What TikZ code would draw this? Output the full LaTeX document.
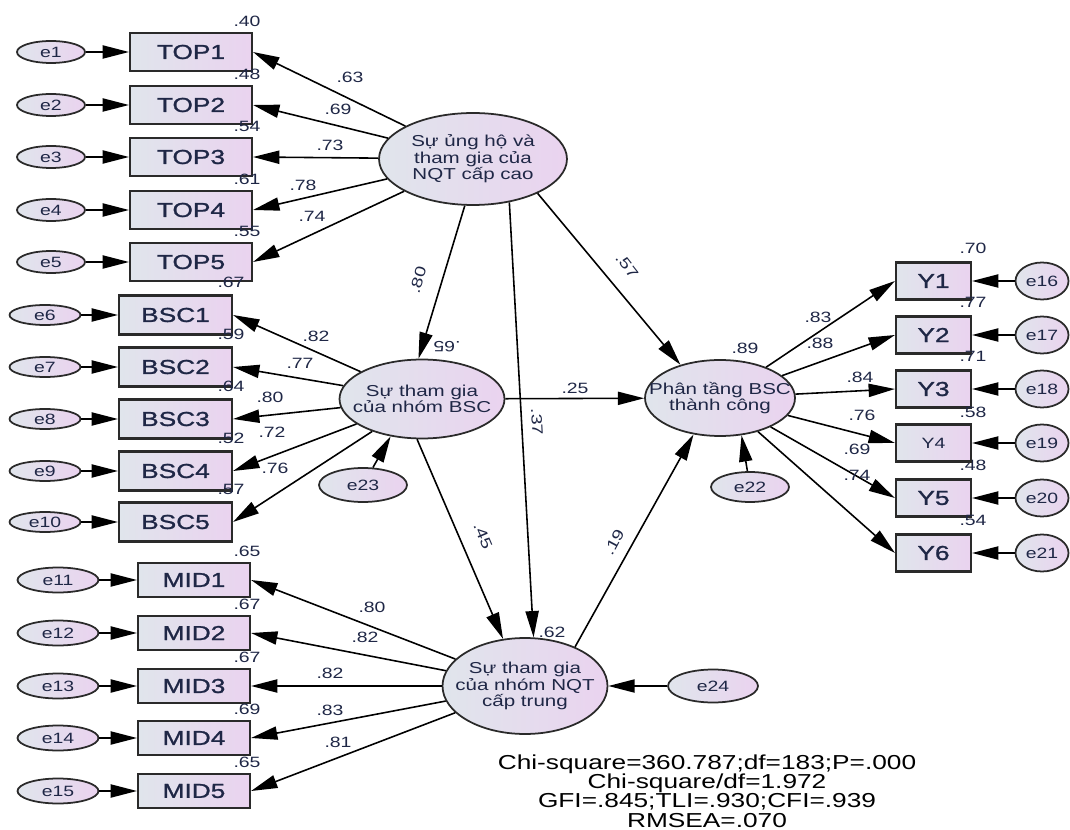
\documentclass[tikz,border=0pt]{standalone}
\usepackage{fontspec}
\newfontfamily\amos[FakeStretch=1.3]{Liberation Sans}
\newfontfamily\amosb[FakeStretch=1.3,FakeBold=1.2]{Liberation Sans}
\usetikzlibrary{arrows.meta,shapes.geometric}
\definecolor{txt}{HTML}{1F2746}
\definecolor{fillL}{HTML}{E0E5EC}
\definecolor{fillR}{HTML}{EAD3EF}
\definecolor{edge}{HTML}{2A2A2A}
\begin{document}
\begin{tikzpicture}[x=0.02cm,y=-0.02cm,
 every node/.style={font=\amos, text=txt},
 obs/.style={draw=edge, line width=1.2pt, rectangle, left color=fillL, right color=fillR, inner sep=0pt, font=\amosb\fontsize{11.5}{12}\selectfont},
 err/.style={draw=edge, line width=1pt, ellipse, left color=fillL, right color=fillR, inner sep=0pt, font=\amos\fontsize{8.5}{9}\selectfont},
 lat/.style={draw=edge, line width=1pt, ellipse, left color=fillL, right color=fillR, inner xsep=-12pt, inner ysep=0pt, align=center, font=\amos\fontsize{9}{9.3}\selectfont},
 num/.style={font=\amos\fontsize{8.5}{9}\selectfont, inner sep=0pt},
 arr/.style={draw=black, line width=0.9pt, -{Triangle[length=15pt,width=7.5pt]}},
]
\useasboundingbox (0,0) rectangle (1070,830);

% latent variables
\node[lat, minimum width=3.76cm, minimum height=1.84cm] (L1) at (473,159) {Sự ủng hộ và\\tham gia của\\NQT cấp cao};
\node[lat, minimum width=3.3cm, minimum height=1.58cm] (L2) at (422,399) {Sự tham gia\\của nhóm BSC};
\node[lat, minimum width=3.3cm, minimum height=1.92cm] (L3) at (525,686) {Sự tham gia\\của nhóm NQT\\cấp trung};
\node[lat, minimum width=3.0cm, minimum height=1.52cm] (L4) at (720,398) {Phân tầng BSC\\thành công};

% TOP block
\foreach \i/\y/\r/\p/\px/\py in {1/52/.40/.63/350/77, 2/105/.48/.69/338/109, 3/157/.54/.73/330/145, 4/210/.61/.78/303/185, 5/262/.55/.74/312/216} {
  \node[obs, minimum width=2.44cm, minimum height=0.76cm] (TOP\i) at (191,\y) {TOP\i};
  \node[err, minimum width=1.36cm, minimum height=0.44cm] (e\i) at (51,\y) {e\i};
  \draw[arr] (e\i) -- (TOP\i);
  \draw[arr] (L1) -- (TOP\i.east);
  \node[num] (rT\i) at (247,\y-31) {\r};
  \node[num] (pT\i) at (\px,\py) {\p};
}

% BSC block
\foreach \i/\e/\y/\r/\p/\px/\py in {1/6/315/.67/.82/316/336, 2/7/367/.59/.77/300/363, 3/8/419/.64/.80/270/397, 4/9/471/.52/.72/272/432, 5/10/522/.57/.76/275/468} {
  \node[obs, minimum width=2.26cm, minimum height=0.78cm] (BSC\i) at (175.5,\y) {BSC\i};
  \node[err, minimum width=1.42cm, minimum height=0.40cm] (e\e) at (45,\y) {e\e};
  \draw[arr] (e\e) -- (BSC\i);
  \draw[arr] (L2) -- (BSC\i.east);
  \node[num] (rB\i) at (231,\y-33) {\r};
  \node[num] (pB\i) at (\px,\py) {\p};
}

% MID block
\foreach \i/\e/\y/\r/\p/\px/\py in {1/11/580/.65/.80/372/607, 2/12/633/.67/.82/365/637, 3/13/686/.67/.82/330/673, 4/14/738/.69/.83/330/710, 5/15/791/.65/.81/338/742} {
  \node[obs, minimum width=2.24cm, minimum height=0.68cm] (MID\i) at (194,\y) {MID\i};
  \node[err, minimum width=1.62cm, minimum height=0.50cm] (e\e) at (58,\y) {e\e};
  \draw[arr] (e\e) -- (MID\i);
  \draw[arr] (L3) -- (MID\i.east);
  \node[num] (rM\i) at (247,\y-29) {\r};
  \node[num] (pM\i) at (\px,\py) {\p};
}

% Y block
\foreach \i/\e/\y/\r/\p/\px/\py in {1/16/281/.70/.83/818/317, 2/17/335/.77/.88/820/343, 3/18/389/.71/.84/860/377, 5/20/498/.48/.69/857/449, 6/21/553/.54/.74/857/475} {
  \node[obs, minimum width=1.5cm, minimum height=0.74cm] (Y\i) at (933.5,\y) {Y\i};
  \node[err, minimum width=1.06cm, minimum height=0.74cm] (e\e) at (1042,\y) {e\e};
  \draw[arr] (e\e) -- (Y\i);
  \draw[arr] (L4) -- (Y\i.west);
  \node[num] (rY\i) at (973,\y-33) {\r};
  \node[num] (pY\i) at (\px,\py) {\p};
}
\node[obs, minimum width=1.5cm, minimum height=0.74cm, font=\amos\fontsize{8.5}{9}\selectfont] (Y4) at (933.5,443) {Y4};
\node[err, minimum width=1.06cm, minimum height=0.74cm] (e19) at (1042,443) {e19};
\draw[arr] (e19) -- (Y4);
\draw[arr] (L4) -- (Y4.west);
\node[num] (rY4) at (973,412) {.58};
\node[num] (pY4) at (862,415) {.76};

% structural disturbances
\node[err, minimum width=1.56cm, minimum height=0.60cm] (e22) at (750,487) {e22};
\node[err, minimum width=1.76cm, minimum height=0.68cm] (e23) at (363,485) {e23};
\node[err, minimum width=1.80cm, minimum height=0.66cm] (e24) at (713,686) {e24};
\draw[arr] (e22) -- (L4.-60);
\draw[arr] (e23) -- (L2.-130);
\draw[arr] (e24) -- (L3);

% structural paths
\draw[arr] (L1.-100) -- (L2.95);
\draw[arr] (L1.-50) -- (L3.80);
\draw[arr] (L1.-28) -- (L4.140);
\draw[arr] (L2.-97) -- (L3.115);
\draw[arr] (L2) -- (L4);
\draw[arr] (L3.38) -- (L4.-126);

% structural labels
\node[num, rotate=73.5] (p80) at (418,280) {.80};
\node[num, rotate=180] (r65) at (447,347) {.65};
\node[num, rotate=-52] (p57) at (627,266) {.57};
\node[num, rotate=-87] (p37) at (537,422) {.37};
\node[num, rotate=-67] (p45) at (483,536) {.45};
\node[num, rotate=62] (p19) at (614,542) {.19};
\node[num] (p25) at (575,388) {.25};
\node[num] (r89) at (745,348) {.89};
\node[num] (r62) at (552,632) {.62};

% fit statistics
\node[align=center, inner sep=0pt, font=\amos\fontsize{11.5}{11}\selectfont, text=black] (fit) at (707,791)
 {Chi-square=360.787;df=183;P=.000\\Chi-square/df=1.972\\GFI=.845;TLI=.930;CFI=.939\\RMSEA=.070};
\end{tikzpicture}
\end{document}
